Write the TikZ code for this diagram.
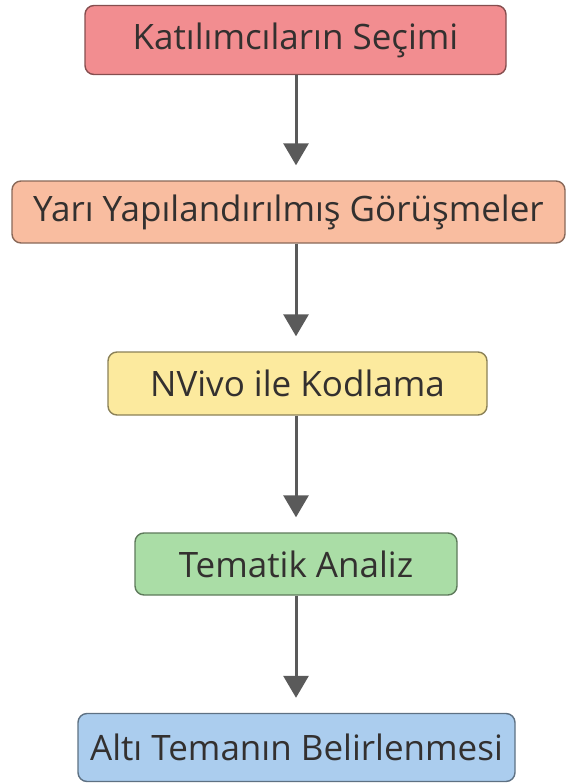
\documentclass[tikz,border=0pt]{standalone}
\usepackage{fontspec}
\setmainfont{Open Sans}
\usetikzlibrary{arrows.meta}
\definecolor{redbox}{HTML}{F28D90}
\definecolor{salmonbox}{HTML}{F9BDA0}
\definecolor{yellowbox}{HTML}{FCEA9E}
\definecolor{greenbox}{HTML}{AADDA6}
\definecolor{bluebox}{HTML}{ABCDEE}
\definecolor{arrowgray}{HTML}{5A5A5A}
\definecolor{boxtext}{HTML}{33302F}
\begin{document}
\begin{tikzpicture}[x=1pt,y=1pt,line join=round,>={Triangle[width=25pt,length=22pt]}]
			\tikzset{stepbox/.style={draw=#1!55!black,fill=#1,line width=1.4pt,rounded corners=9pt,text=boxtext,font=\fontsize{35}{40}\selectfont,inner sep=0pt},
				flow/.style={->,arrowgray,line width=3pt,shorten >=15pt}}
			\useasboundingbox (0,0) rectangle (572,-784);
			\node[stepbox=redbox,minimum width=421pt,minimum height=69pt] (secim) at (295.5,-40) {Katılımcıların Seçimi};
			\node[stepbox=salmonbox,minimum width=553pt,minimum height=62pt] (gorusme) at (288.5,-212) {Yarı Yapılandırılmış Görüşmeler};
			\node[stepbox=yellowbox,minimum width=379pt,minimum height=63pt] (kodlama) at (297.5,-383.5) {NVivo ile Kodlama};
			\node[stepbox=greenbox,minimum width=322pt,minimum height=62pt] (analiz) at (296,-564) {Tematik Analiz};
			\node[stepbox=bluebox,minimum width=437pt,minimum height=68pt] (tema) at (296.5,-747.5) {Altı Temanın Belirlenmesi};
			\draw[flow] (secim.south -| 296,0) -- (gorusme.north -| 296,0);
			\draw[flow] (gorusme.south -| 296,0) -- (kodlama.north -| 296,0);
			\draw[flow] (kodlama.south -| 296,0) -- (analiz.north -| 296,0);
			\draw[flow] (analiz.south -| 296,0) -- (tema.north -| 296,0);
		\end{tikzpicture}
\end{document}
